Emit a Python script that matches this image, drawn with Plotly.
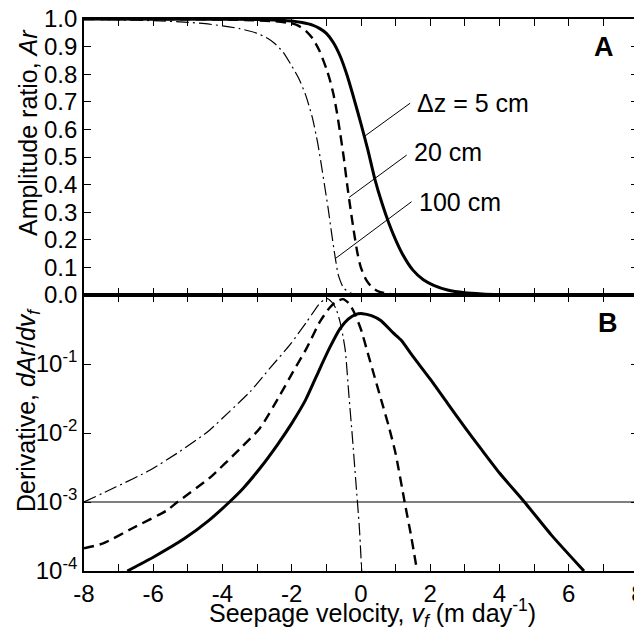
import plotly.graph_objects as go
from plotly.subplots import make_subplots

# ---------------- data ----------------
# Panel A: amplitude ratio Ar vs seepage velocity vf (m/day)
ar5_x = [-8, -4, -3, -2.5, -2, -1.7, -1.4, -1.2, -1.0, -0.8, -0.6, -0.4, -0.2, 0.0, 0.2, 0.4, 0.6,
         0.8, 1.0, 1.2, 1.5, 1.8, 2.1, 2.5, 3.0, 3.5, 4.0, 5.0, 6.0, 8.0]
ar5_y = [1.0, 0.999, 0.998, 0.996, 0.993, 0.987, 0.978, 0.966, 0.948, 0.915, 0.865, 0.795, 0.71, 0.62,
         0.525, 0.42, 0.335, 0.262, 0.2, 0.148, 0.09, 0.055, 0.035, 0.018, 0.008, 0.004, 0.002, 0.0005,
         0.0001, 0.0]

ar20_x = [-8, -5, -4, -3, -2.5, -2.0, -1.8, -1.6, -1.4, -1.2, -1.0, -0.9, -0.8, -0.7, -0.6, -0.5, -0.4,
          -0.3, -0.2, -0.1, 0.0, 0.15, 0.3, 0.5, 0.8, 1.2, 2.0, 8.0]
ar20_y = [1.0, 0.999, 0.998, 0.995, 0.992, 0.984, 0.975, 0.958, 0.93, 0.885, 0.82, 0.78, 0.73, 0.665,
          0.585, 0.50, 0.40, 0.31, 0.225, 0.15, 0.098, 0.055, 0.03, 0.013, 0.004, 0.001, 0.0001, 0.0]

ar100_x = [-8, -7, -6, -5, -4.5, -4, -3.5, -3.0, -2.7, -2.5, -2.25, -2.0, -1.8, -1.6, -1.4, -1.25, -1.15,
           -1.05, -0.95, -0.85, -0.75, -0.65, -0.5, -0.3, 0.0, 0.5, 8.0]
ar100_y = [0.999, 0.997, 0.994, 0.988, 0.983, 0.975, 0.965, 0.948, 0.93, 0.912, 0.88, 0.83, 0.785, 0.725,
           0.64, 0.55, 0.475, 0.395, 0.315, 0.225, 0.14, 0.07, 0.025, 0.007, 0.001, 0.0, 0.0]

# Panel B: derivative dAr/dvf, stored as log10 exponents
d5_x = [-6.75, -6.0, -5.1, -4.4, -3.8, -3.4, -2.9, -2.4, -2.0, -1.6, -1.2, -0.9, -0.61, -0.37, -0.15,
        0.05, 0.3, 0.57, 0.93, 1.15, 1.5, 2.0, 2.5, 3.0, 3.45, 4.0, 4.72, 5.5, 6.44]
d5_log10 = [-4.0, -3.80, -3.53, -3.27, -3.0, -2.80, -2.50, -2.16, -1.86, -1.52, -1.08, -0.76, -0.49, -0.35,
            -0.28, -0.27, -0.30, -0.37, -0.55, -0.65, -0.89, -1.22, -1.57, -1.92, -2.22, -2.58, -3.0,
            -3.48, -4.0]

d20_x = [-8, -7.45, -6.6, -5.6, -5.3, -4.37, -3.5, -2.92, -2.34, -1.96, -1.57, -1.19, -0.9, -0.7, -0.52,
         -0.35, -0.2, 0.0, 0.2, 0.4, 0.6, 0.8, 1.0, 1.26, 1.45, 1.62]
d20_log10 = [-3.67, -3.6, -3.38, -3.12, -3.0, -2.65, -2.23, -1.93, -1.45, -1.11, -0.77, -0.39, -0.18, -0.09,
             -0.06, -0.12, -0.25, -0.50, -0.85, -1.2, -1.55, -1.9, -2.3, -3.0, -3.5, -4.0]

d100_x = [-8, -7.07, -6.1, -5.24, -4.4, -3.8, -3.2, -2.63, -2.05, -1.57, -1.19, -1.0, -0.85, -0.72, -0.6,
          -0.52, -0.45, -0.35, -0.25, -0.15, -0.05, 0.02]
d100_log10 = [-3.0, -2.78, -2.54, -2.27, -1.97, -1.69, -1.40, -1.06, -0.72, -0.39, -0.12, -0.05, -0.1, -0.2,
              -0.4, -0.6, -0.82, -1.45, -2.05, -2.7, -3.35, -4.0]

threshold_x = [-8, 8]
threshold_y = [1e-3, 1e-3]

x_ticks = list(range(-8, 9))
x_ticktext = [str(v) if v % 2 == 0 else "" for v in x_ticks]
ar_ticks = [i / 10 for i in range(11)]
ar_ticktext = ["%.1f" % v for v in ar_ticks]
d_ticks = [1e-4, 1e-3, 1e-2, 1e-1, 1]
d_ticktext = ["10<sup>-4</sup>", "10<sup>-3</sup>", "10<sup>-2</sup>", "10<sup>-1</sup>", ""]

labels = ["\u0394z = 5 cm", "20 cm", "100 cm"]

# ---------------- figure ----------------
FONT = "Liberation Sans, Arial, sans-serif"
fig = make_subplots(rows=2, cols=1, shared_xaxes=True, vertical_spacing=0)

styles = [dict(width=3, dash="solid"),
          dict(width=2.4, dash="10px,6px"),
          dict(width=1.2, dash="13px,4px,2px,4px")]

for (xs, ys), st in zip([(ar5_x, ar5_y), (ar20_x, ar20_y), (ar100_x, ar100_y)], styles):
    fig.add_trace(go.Scatter(x=xs, y=ys, mode="lines", line=dict(color="black", shape="spline",
                                                                   smoothing=0.6, **st)), row=1, col=1)

for (xs, ls), st in zip([(d5_x, d5_log10), (d20_x, d20_log10), (d100_x, d100_log10)], styles):
    fig.add_trace(go.Scatter(x=xs, y=[10 ** v for v in ls], mode="lines",
                             line=dict(color="black", shape="spline", smoothing=0.6, **st)), row=2, col=1)

fig.add_trace(go.Scatter(x=threshold_x, y=threshold_y, mode="lines",
                         line=dict(color="black", width=1.2)), row=2, col=1)

axis_common = dict(showline=True, linecolor="black", linewidth=1.6, mirror="ticks", ticks="inside",
                   ticklen=7, tickwidth=1.3, tickcolor="black", showgrid=False, zeroline=False,
                   automargin=False, ticklabeloverflow="allow",
                   tickfont=dict(size=24, color="black", family=FONT))

fig.update_xaxes(range=[-8, 8], tickmode="array", tickvals=x_ticks, ticktext=x_ticktext, **axis_common)
fig.update_xaxes(showticklabels=False, row=1, col=1)
fig.update_yaxes(range=[0, 1.0], tickmode="array", tickvals=ar_ticks, ticktext=ar_ticktext,
                 row=1, col=1, **axis_common)
fig.update_yaxes(type="log", range=[-4, 0], tickmode="array", tickvals=d_ticks, ticktext=d_ticktext,
                 row=2, col=1, **axis_common)

# pointer lines from labels to curves (top panel data coords)
pointers = [((1.42, 0.695), (0.09, 0.574)),
            ((1.32, 0.507), (-0.34, 0.354)),
            ((1.46, 0.338), (-0.73, 0.133))]
shapes = []
for (x0, y0), (x1, y1) in pointers:
    shapes.append(dict(type="line", xref="x", yref="y", x0=x0, y0=y0, x1=x1, y1=y1,
                       line=dict(color="black", width=1)))

annotations = []
for txt, (lx, ly) in zip(labels, [(1.55, 0.696), (1.47, 0.519), (1.61, 0.338)]):
    annotations.append(dict(text=txt, x=lx, y=ly, xref="x", yref="y", xanchor="left", yanchor="middle",
                            showarrow=False, font=dict(size=25, family=FONT, color="black")))

annotations += [
    dict(text="<b>A</b>", x=0.938, y=0.950, xref="paper", yref="paper", showarrow=False,
         xanchor="center", yanchor="middle", font=dict(size=27, family=FONT, color="black")),
    dict(text="<b>B</b>", x=0.945, y=0.449, xref="paper", yref="paper", showarrow=False,
         xanchor="center", yanchor="middle", font=dict(size=27, family=FONT, color="black")),
    dict(text="Amplitude ratio, <i>Ar</i>", x=-0.101, y=0.7935, xref="paper", yref="paper",
         textangle=-90, showarrow=False, xanchor="center", yanchor="middle",
         font=dict(size=25, family=FONT, color="black")),
    dict(text="Derivative, <i>dAr</i>/<i>dv<sub>f</sub></i>", x=-0.101, y=0.2917, xref="paper",
         yref="paper", textangle=-90, showarrow=False, xanchor="center", yanchor="middle",
         font=dict(size=25, family=FONT, color="black")),
    dict(text="Seepage velocity, <i>v<sub>f</sub></i> (m day<sup>-1</sup>)", x=0.521, y=-0.076,
         xref="paper", yref="paper", showarrow=False, xanchor="center", yanchor="middle",
         font=dict(size=25, family=FONT, color="black")),
]

# the page body adds an 8px margin, so the figure is sized to fill the rest of the 642x631 window
fig.update_layout(width=634, height=623, margin=dict(l=76, r=4, t=11, b=60), template="none",
                  plot_bgcolor="white", paper_bgcolor="white", showlegend=False,
                  font=dict(family=FONT, color="black", size=24),
                  shapes=shapes, annotations=annotations)

fig.write_html("out.html")
